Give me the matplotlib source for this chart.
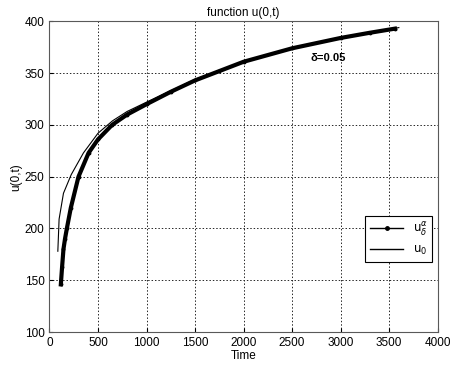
import matplotlib.pyplot as plt
from matplotlib.lines import Line2D

plt.rcParams['font.family'] = ['Liberation Sans', 'DejaVu Sans']

# u_delta^alpha (thick dotted curve)
t_a = [117, 130, 144, 160, 179, 220, 299, 403, 500, 645, 800, 1000, 1250,
       1500, 1750, 2000, 2500, 3000, 3300, 3560]
u_a = [146, 163, 180, 190, 200, 220, 250, 273, 286, 300, 310, 320, 332,
       343, 352, 361, 374, 384, 389, 393]

# u_0 (thin curve)
t_0 = [86, 99, 144, 224, 350, 500, 650, 800, 1000, 1250, 1500, 2000, 2500,
       3000, 3600]
u_0 = [178, 209, 234, 252, 273, 292, 304, 313, 322, 333, 344, 361, 374,
       384, 394]

fig = plt.figure(figsize=(4.54, 3.65), dpi=100)
ax = fig.add_axes([0.109, 0.0904, 0.855, 0.851])

ax.plot(t_a, u_a, color='black', lw=3, marker='.', ms=3.5)
ax.plot(t_0, u_0, color='black', lw=0.8)

ax.set_xlim(0, 4000)
ax.set_ylim(100, 400)
ax.set_xticks(range(0, 4001, 500))
ax.set_yticks(range(100, 401, 50))
ax.grid(True, linestyle=(0, (1.5, 2)), color='0.15', lw=0.7)
ax.tick_params(direction='in', labelsize=8.5, length=3)
for s in ax.spines.values():
    s.set_color('0.35')

ax.set_title('function u(0,t)', fontsize=8.5, pad=4)
ax.set_xlabel('Time', fontsize=8.5, labelpad=1)
ax.set_ylabel('u(0,t)', fontsize=8.5, labelpad=2)

ax.text(2690, 365, 'δ=0.05', fontsize=8, fontweight='bold', va='center')

handles = [Line2D([], [], color='black', lw=1, marker='.', ms=5),
           Line2D([], [], color='black', lw=1)]
leg = ax.legend(handles, [r'$\mathrm{u}_\delta^\alpha$', r'$\mathrm{u}_0$'],
                loc='center', bbox_to_anchor=(0.90, 0.30), fancybox=False,
                framealpha=1, edgecolor='black', fontsize=8.5,
                handlelength=2.8)
leg.get_frame().set_linewidth(0.8)

fig.savefig('out.png', dpi=100)
